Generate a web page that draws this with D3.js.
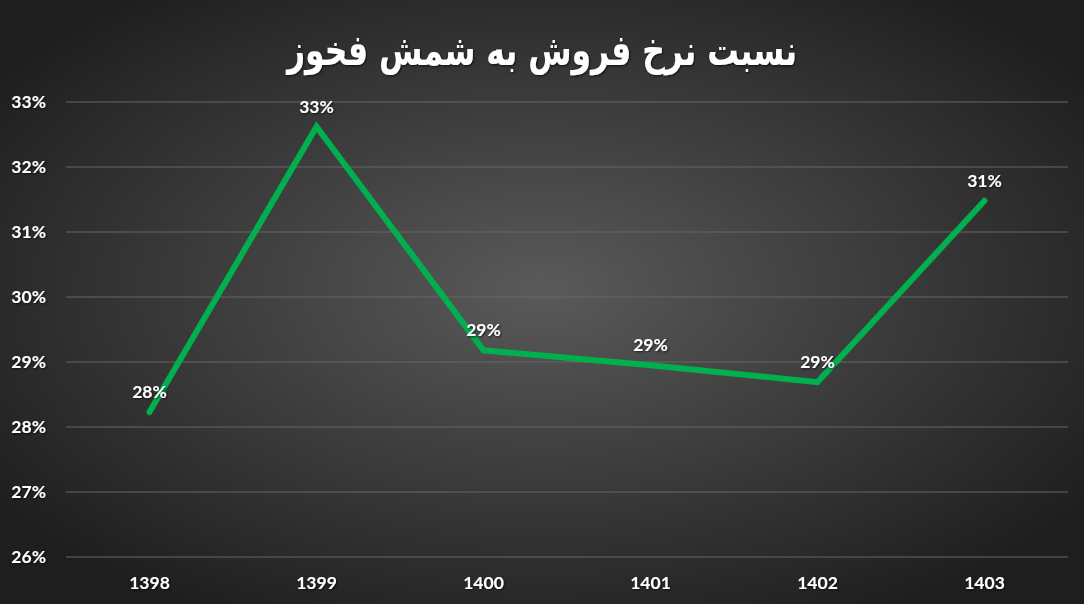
<!DOCTYPE html>
<html><head><meta charset="utf-8">
<script src="https://cdn.jsdelivr.net/npm/d3@7"></script>
<style>body{margin:0;background:#222}svg{display:block}</style>
</head><body>
<script>
const title = "نسبت نرخ فروش به شمش فخوز";
const years = ["1398","1399","1400","1401","1402","1403"];
const ratios = [28.23, 32.62, 29.18, 28.95, 28.69, 31.48];
const dataLabels = ["28%","33%","29%","29%","29%","31%"];
const yTicks = [26,27,28,29,30,31,32,33];

const W=1084,H=604;
const svg=d3.select("body").append("svg").attr("width",W).attr("height",H);
const defs=svg.append("defs");
const rg=defs.append("radialGradient").attr("id","bg").attr("cx","50%").attr("cy","48%").attr("r","62%");
rg.append("stop").attr("offset","0%").attr("stop-color","#5a5a5a");
rg.append("stop").attr("offset","100%").attr("stop-color","#1e1e1e");
const f=defs.append("filter").attr("id","sh").attr("x","-20%").attr("y","-20%").attr("width","140%").attr("height","140%");
f.append("feDropShadow").attr("dx",1).attr("dy",1).attr("stdDeviation",1).attr("flood-color","#000").attr("flood-opacity",0.7);
svg.append("rect").attr("width",W).attr("height",H).attr("fill","url(#bg)");

const x=d3.scaleBand().domain(years).range([66,1068]);
const y=d3.scaleLinear().domain([26,33]).range([557,102]);

svg.append("g").selectAll("line").data(yTicks).join("line")
 .attr("x1",66).attr("x2",1068).attr("y1",d=>y(d)).attr("y2",d=>y(d))
 .attr("stroke","#666").attr("stroke-width",1);

const font="Lato, 'Open Sans', sans-serif";
svg.append("g").selectAll("text").data(yTicks).join("text")
 .attr("x",46).attr("y",d=>y(d)).attr("dy","0.35em").attr("text-anchor","end")
 .attr("fill","#fff").attr("font-family",font).attr("font-weight","bold").attr("font-size",17.5)
 .attr("filter","url(#sh)").text(d=>d+"%");

svg.append("g").selectAll("text").data(years).join("text")
 .attr("x",d=>x(d)+x.bandwidth()/2).attr("y",583).attr("dy","0.35em").attr("text-anchor","middle")
 .attr("fill","#fff").attr("font-family",font).attr("font-weight","bold").attr("font-size",17.5)
 .attr("filter","url(#sh)").text(d=>d);

const line=d3.line().x((d,i)=>x(years[i])+x.bandwidth()/2).y(d=>y(d));
svg.append("path").datum(ratios).attr("d",line).attr("fill","none")
 .attr("stroke","#00b04f").attr("stroke-width",6).attr("stroke-linecap","round").attr("stroke-linejoin","miter");

svg.append("g").selectAll("text").data(ratios).join("text")
 .attr("x",(d,i)=>x(years[i])+x.bandwidth()/2).attr("y",d=>y(d)-20).attr("dy","0.35em").attr("text-anchor","middle")
 .attr("fill","#fff").attr("font-family",font).attr("font-weight","bold").attr("font-size",17.5)
 .attr("filter","url(#sh)").text((d,i)=>dataLabels[i]);

svg.append("text").attr("transform","translate(542,50) scale(0.92,1.12)").attr("dy","0.35em").attr("text-anchor","middle")
 .attr("direction","rtl").attr("fill","#fff").attr("font-family","'DejaVu Sans Condensed', 'DejaVu Sans', sans-serif")
 .attr("font-weight","bold").attr("font-size",38).attr("filter","url(#sh)").text(title);
</script>
</body></html>
